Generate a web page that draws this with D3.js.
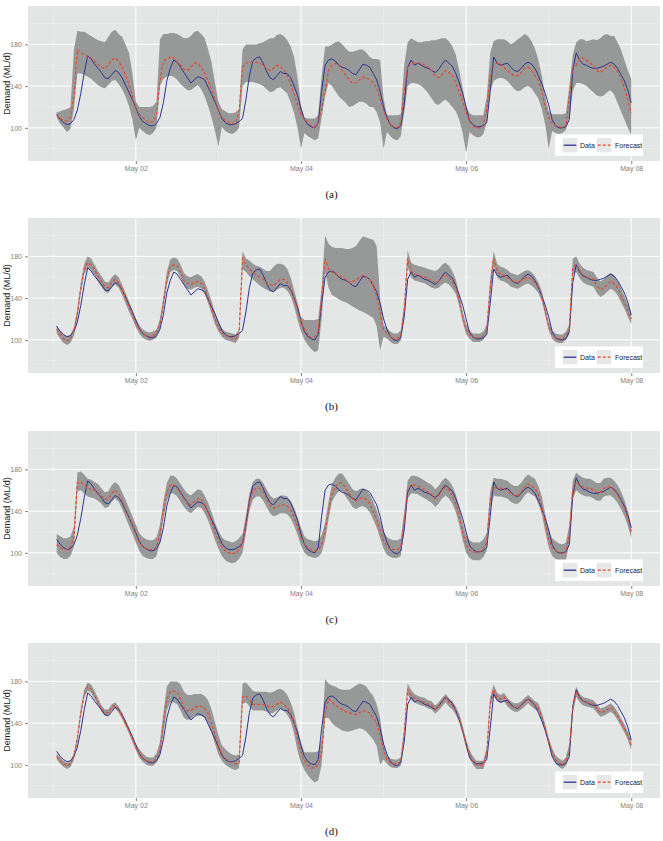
<!DOCTYPE html>
<html lang="en">
<head>
<meta charset="UTF-8" />
<title>Demand forecasts</title>
<script src="https://d3js.org/d3.v7.min.js"></script>
<style>
  body { margin: 0; background: #fff; }
  .tick text { font-family: "Liberation Sans", Arial, sans-serif; font-size: 7px; fill: #808080; }
  .tick line { stroke: #808080; }
  .panel-label { font-family: "Liberation Serif", "Times New Roman", serif; font-size: 11px; fill: #111; }
  .ytitle { font-family: "Liberation Sans", Arial, sans-serif; font-size: 9px; fill: #1a1a1a; }
  .legend text { font-family: "Liberation Sans", Arial, sans-serif; font-size: 7px; fill: #1a1a1a; }
</style>
</head>
<body>
<svg id="chart"></svg>
<script>
// hourly values, May 01 01:00 -> May 08 00:00 (one row per day)
const demand = [
  113,108,105,103,104,108,117,133,153,169,166,161,157,153,148,147,151,155,153,148,141,134,127,119,
  111,106,104,102,102,104,110,124,145,157,165,163,158,153,148,143,146,149,148,146,139,132,125,117,
  109,105,103,103,104,106,109,127,150,164,167,168,162,154,148,146,150,154,152,152,148,140,131,118,
  108,103,101,100,105,135,160,165,166,164,160,158,157,155,152,151,156,161,160,158,152,146,135,120,
  110,103,100,99,102,122,158,165,160,162,160,158,157,155,153,156,161,165,162,159,152,143,133,120,
  107,103,101,101,102,105,135,168,162,160,161,162,158,155,154,157,161,163,161,157,150,142,133,122,
  108,102,100,100,101,108,155,172,165,161,160,158,157,157,158,159,161,163,161,157,151,145,136,124
];

// (a)
const fcA = [
  112,109,107,107,110,130,175,172,170,168,167,164,161,158,157,160,165,167,164,158,150,142,130,119,
  113,110,107,105,106,112,145,164,166,168,167,163,160,156,155,158,162,162,158,152,145,137,127,117,
  110,107,105,104,105,115,158,162,163,163,163,162,160,157,155,157,160,159,155,150,142,132,122,113,
  108,105,102,100,105,118,135,155,160,162,160,155,150,146,143,143,146,149,148,146,143,138,128,117,
  108,103,101,100,105,135,158,162,162,162,162,160,158,155,150,148,151,155,153,150,143,135,125,115,
  106,102,100,100,103,118,150,160,162,161,158,155,152,150,150,153,157,158,155,150,145,135,120,110,
  104,102,101,100,102,130,158,160,166,167,165,162,160,155,153,156,158,160,158,154,147,138,127,114
];
const hiA = [
  115,116,117,118,120,175,193,192,192,190,188,186,184,183,182,187,192,194,190,187,180,172,152,125,
  120,120,120,120,121,125,185,190,190,191,191,190,188,186,186,188,192,193,190,186,175,163,143,125,
  118,116,114,114,115,118,175,180,180,180,180,181,182,184,186,186,189,190,188,184,178,168,148,122,
  110,109,109,109,112,150,178,178,180,182,183,180,176,173,173,174,175,175,172,168,166,166,165,128,
  112,112,112,112,113,160,182,186,184,182,182,183,183,184,184,185,186,186,183,178,170,155,138,120,
  114,112,112,112,112,130,172,183,185,185,185,183,180,182,185,187,190,188,183,176,165,150,130,116,
  113,113,113,113,114,140,170,182,185,185,183,184,185,184,186,189,190,188,188,182,175,165,155,147
];
const loA = [
  110,104,100,96,99,118,152,152,151,149,147,144,141,139,138,141,145,146,142,137,130,121,108,88,
  100,97,94,93,95,100,140,147,149,150,149,146,142,139,136,136,139,141,137,130,121,110,97,82,
  101,97,95,94,96,100,140,144,144,144,143,142,140,137,134,135,138,139,136,133,124,114,100,80,
  95,92,90,88,90,110,130,143,140,135,130,127,124,120,121,123,125,125,123,120,120,115,105,80,
  96,92,89,88,92,115,140,143,143,142,140,137,133,128,123,122,125,127,124,120,116,108,95,76,
  96,93,91,91,94,105,135,145,147,148,147,145,141,137,135,136,139,140,138,133,128,118,103,80,
  97,95,94,95,98,110,135,143,143,142,140,137,134,131,130,131,134,136,132,124,116,108,100,93
];

// (b)
const fcB = [
  110,105,101,99,101,108,125,150,168,174,172,167,161,156,151,150,155,158,155,148,140,132,124,116,
  110,106,104,103,104,106,115,135,158,170,172,171,165,157,154,153,155,156,154,149,140,130,120,112,
  107,104,103,102,101,106,178,172,168,165,162,160,158,155,153,152,155,158,158,155,150,140,128,117,
  110,105,102,103,108,140,178,168,165,163,162,160,158,155,156,157,160,162,160,158,152,142,125,110,
  106,103,101,101,104,128,178,166,163,162,161,160,158,157,155,156,160,162,160,156,150,138,122,110,
  105,102,102,102,104,110,150,178,166,163,162,160,157,156,155,157,159,160,158,155,150,142,127,113,
  105,102,101,101,104,110,170,172,166,162,160,159,158,152,148,150,153,156,154,150,143,136,128,120
];
const hiB = [
  114,109,105,103,105,112,130,155,173,180,178,172,166,161,156,155,160,163,160,153,145,137,128,120,
  114,110,108,107,108,110,120,141,165,177,179,178,172,164,161,160,162,163,161,156,147,137,126,117,
  111,108,107,106,105,110,185,178,176,173,171,170,168,166,166,170,173,173,172,168,160,148,135,122,
  119,119,119,119,120,150,200,192,189,188,188,188,187,187,188,190,195,199,198,197,196,190,140,114,
  111,108,106,106,109,134,186,174,172,171,170,169,168,167,166,168,172,174,171,166,158,144,127,115,
  109,106,106,106,108,115,158,185,173,170,169,167,164,163,162,164,166,167,165,161,155,147,131,117,
  109,106,105,105,108,115,178,180,173,169,167,166,165,160,156,158,162,164,162,157,150,142,134,125
];
const loB = [
  106,101,97,95,97,104,120,145,163,169,167,162,156,151,146,145,150,153,150,143,135,127,120,112,
  106,102,100,99,100,102,110,130,152,165,167,166,160,152,149,148,150,151,149,144,135,125,115,108,
  103,100,99,98,97,102,168,165,161,158,155,152,150,148,146,146,148,150,150,147,142,132,119,108,
  100,95,91,88,90,120,165,150,143,141,139,137,136,134,132,130,128,127,125,123,121,113,90,103,
  101,98,96,96,99,122,170,160,157,156,155,154,152,150,149,150,153,155,153,149,144,132,117,105,
  101,98,98,98,100,105,143,171,160,157,156,154,151,150,149,151,153,154,152,149,145,137,123,109,
  101,98,97,97,100,105,163,165,159,155,153,152,151,145,141,143,146,149,147,143,136,130,122,115
];

// (c)
const fcC = [
  108,105,103,103,106,115,167,168,165,162,161,160,158,155,151,152,157,160,157,150,142,134,126,118,
  110,106,104,103,103,106,118,140,158,165,165,162,157,152,148,146,149,152,151,146,139,130,120,112,
  106,102,100,99,100,103,108,127,148,159,162,162,158,152,146,143,144,146,146,145,141,134,125,115,
  108,105,103,102,103,108,120,140,157,163,167,167,162,157,152,150,152,153,151,147,140,132,122,112,
  106,104,103,103,105,130,160,165,165,164,162,160,158,156,152,155,160,163,160,155,147,135,120,108,
  103,101,101,101,104,110,150,163,162,162,161,160,157,155,155,158,163,166,164,162,155,145,128,113,
  105,102,100,99,101,118,160,168,165,163,162,162,160,158,158,162,163,163,160,156,150,143,133,120
];
const hiC = [
  118,116,114,114,116,125,177,178,175,171,170,168,166,162,158,159,165,168,165,158,151,143,135,127,
  119,115,113,112,112,115,127,149,167,174,174,171,166,161,157,155,158,161,160,155,148,139,129,121,
  115,112,111,110,111,114,118,136,157,168,171,171,167,161,155,152,153,155,155,154,150,143,134,124,
  116,113,112,111,112,117,129,149,166,172,176,176,171,166,161,159,161,162,160,156,149,141,131,121,
  115,113,112,112,114,139,169,174,174,173,171,169,167,165,161,164,169,172,169,164,156,144,129,117,
  112,110,110,110,113,119,159,172,171,171,170,169,166,164,164,167,172,175,173,171,164,154,137,122,
  114,111,109,108,110,127,169,177,174,172,171,171,169,167,167,171,172,172,169,165,159,151,140,126
];
const loC = [
  100,96,94,94,97,106,159,160,157,154,153,152,150,147,143,144,149,152,149,142,134,126,118,110,
  102,97,95,94,94,97,110,132,150,157,157,154,149,144,140,138,141,144,143,138,131,122,112,104,
  97,93,91,90,91,94,100,119,140,151,154,154,150,144,138,135,136,138,138,137,133,126,117,107,
  100,97,96,95,96,100,112,132,149,155,159,159,154,149,144,142,144,145,143,139,132,124,114,104,
  98,96,95,95,97,122,152,157,157,156,154,152,150,148,144,147,152,155,152,147,139,127,112,100,
  95,93,93,93,96,102,142,155,154,154,153,152,149,147,147,150,155,158,156,154,147,137,120,105,
  97,94,92,91,93,110,152,160,157,155,154,154,152,150,150,154,155,155,152,148,142,135,126,114
];

// (d)
const fcD = [
  108,104,101,99,101,108,125,150,168,175,173,167,160,154,150,150,155,157,153,147,140,133,125,117,
  111,107,104,103,103,106,115,140,163,170,171,170,163,155,152,152,155,156,156,154,149,140,129,118,
  110,106,104,102,101,102,165,166,162,158,158,158,158,157,155,156,158,160,158,155,150,140,125,112,
  104,100,97,97,100,112,150,163,160,157,155,153,151,150,149,148,150,152,151,150,145,140,128,115,
  105,102,101,101,103,130,172,167,164,162,161,160,158,157,153,156,160,164,160,157,152,145,133,120,
  110,104,100,100,100,112,160,172,165,163,165,160,157,155,155,157,160,163,160,157,155,146,135,122,
  112,105,102,100,103,115,155,170,164,161,160,159,158,154,150,151,153,155,152,147,141,135,128,119
];
const hiD = [
  111,107,104,102,104,111,129,154,172,179,177,171,164,157,153,153,158,160,156,150,143,136,128,120,
  115,111,108,107,107,111,122,150,175,180,180,180,177,170,167,167,168,168,168,166,162,153,141,128,
  119,115,112,110,109,110,178,179,175,171,170,170,170,170,169,170,172,173,171,167,160,150,135,122,
  112,112,112,112,113,125,182,178,176,175,173,172,172,172,174,176,178,177,175,170,166,158,145,120,
  109,106,105,105,107,135,178,172,168,166,165,164,162,161,157,160,164,168,164,161,156,149,137,124,
  114,108,104,104,104,117,165,177,169,167,169,164,161,159,159,161,164,167,164,161,159,150,139,126,
  116,109,106,104,107,120,160,175,168,165,164,163,162,158,154,155,157,159,156,151,145,139,132,124
];
const loD = [
  105,101,98,96,98,105,122,146,165,171,169,163,157,151,147,147,152,154,150,144,137,130,122,114,
  107,103,100,99,99,102,108,130,152,160,160,158,152,145,143,144,147,147,147,145,140,131,120,110,
  104,100,98,96,95,97,158,160,156,152,152,152,152,151,149,150,152,154,152,148,142,130,113,102,
  95,90,86,83,85,100,145,145,140,137,135,133,132,132,133,134,135,134,132,128,124,118,100,105,
  101,98,97,97,99,125,167,162,160,158,157,156,154,153,149,152,156,160,156,153,148,141,129,116,
  106,100,96,96,96,107,155,167,161,159,161,156,153,151,151,153,156,159,156,153,151,142,131,118,
  108,101,98,96,99,110,150,165,160,157,156,155,154,150,146,147,149,151,148,143,137,131,124,114
];

const panelTags = ["(a)", "(b)", "(c)", "(d)"];
const majorDays = [2, 4, 6, 8];
const minorDays = [1, 3, 5, 7];
const yMajor = [100, 140, 180];
const yMinor = [80, 120, 160, 200];
const seriesNames = ["Data", "Forecast"];

const width = 663, height = 841;
const plotLeft = 28, plotRight = 660, panelH = 155;
const panelTops = [6, 218, 431, 643];

const start = new Date(2014, 4, 1);
const times = d3.range(1, demand.length + 1).map((h) => d3.timeHour.offset(start, h));
const dayDate = (d) => new Date(2014, 4, d);

const svg = d3.select("#chart").attr("width", width).attr("height", height);

// shared x scale, 5% padding on each side like ggplot
const x = d3
  .scaleTime()
  .domain([d3.timeMinute.offset(start, -441), d3.timeMinute.offset(start, 10581)])
  .range([plotLeft, plotRight]);

const panels = [
  { fc: fcA, lo: loA, hi: hiA },
  { fc: fcB, lo: loB, hi: hiB },
  { fc: fcC, lo: loC, hi: hiC },
  { fc: fcD, lo: loD, hi: hiD },
];

panels.forEach((p, i) => {
  const top = panelTops[i];
  const bottom = top + panelH;
  const y = d3.scaleLinear().domain([68.2, 216.8]).range([bottom, top]);
  const g = svg.append("g");

  g.append("rect")
    .attr("x", plotLeft).attr("y", top)
    .attr("width", plotRight - plotLeft).attr("height", panelH)
    .attr("fill", "#E4E6E5");

  // grid
  g.selectAll(".ymin").data(yMinor).join("line")
    .attr("x1", plotLeft).attr("x2", plotRight)
    .attr("y1", (d) => y(d)).attr("y2", (d) => y(d))
    .attr("stroke", "#F0F1F1").attr("stroke-width", 0.5);
  g.selectAll(".xmin").data(minorDays).join("line")
    .attr("x1", (d) => x(dayDate(d))).attr("x2", (d) => x(dayDate(d)))
    .attr("y1", top).attr("y2", bottom)
    .attr("stroke", "#F0F1F1").attr("stroke-width", 0.5);
  g.selectAll(".ymaj").data(yMajor).join("line")
    .attr("x1", plotLeft).attr("x2", plotRight)
    .attr("y1", (d) => y(d)).attr("y2", (d) => y(d))
    .attr("stroke", "#fff").attr("stroke-width", 1);
  g.selectAll(".xmaj").data(majorDays).join("line")
    .attr("x1", (d) => x(dayDate(d))).attr("x2", (d) => x(dayDate(d)))
    .attr("y1", top).attr("y2", bottom)
    .attr("stroke", "#fff").attr("stroke-width", 1);

  // clip
  const clipId = "clip" + i;
  svg.append("clipPath").attr("id", clipId)
    .append("rect")
    .attr("x", plotLeft).attr("y", top)
    .attr("width", plotRight - plotLeft).attr("height", panelH);
  const plot = g.append("g").attr("clip-path", `url(#${clipId})`);

  const area = d3.area()
    .x((d, j) => x(times[j]))
    .y0((d, j) => y(p.lo[j]))
    .y1((d, j) => y(p.hi[j]));
  plot.append("path").datum(p.fc).attr("d", area).attr("fill", "#979998");

  const line = d3.line().x((d, j) => x(times[j])).y((d) => y(d));
  plot.append("path").datum(demand).attr("d", line)
    .attr("fill", "none").attr("stroke", "#2B3492").attr("stroke-width", 1);
  plot.append("path").datum(p.fc).attr("d", line)
    .attr("fill", "none").attr("stroke", "#E8482E")
    .attr("stroke-width", 1.2).attr("stroke-dasharray", "3,2");

  // axes
  const xAxis = g.append("g")
    .attr("transform", `translate(0,${bottom})`)
    .call(d3.axisBottom(x)
      .tickValues(majorDays.map(dayDate))
      .tickFormat(d3.timeFormat("%b %d"))
      .tickSize(3).tickPadding(2));
  xAxis.select(".domain").remove();

  const yAxis = g.append("g")
    .attr("transform", `translate(${plotLeft},0)`)
    .call(d3.axisLeft(y).tickValues(yMajor).tickSize(3).tickPadding(3));
  yAxis.select(".domain").remove();

  g.append("text")
    .attr("class", "ytitle")
    .attr("transform", `translate(10,${top + panelH / 2}) rotate(-90)`)
    .attr("text-anchor", "middle")
    .text("Demand (ML/d)");

  g.append("text")
    .attr("class", "panel-label")
    .attr("x", 331.5).attr("y", bottom + 37)
    .attr("text-anchor", "middle")
    .text(panelTags[i]);

  // legend
  const lgTop = bottom - 26.5;
  const lg = g.append("g").attr("class", "legend");
  lg.append("rect")
    .attr("x", 555).attr("y", lgTop).attr("width", 88).attr("height", 21.5)
    .attr("fill", "#fff");
  const keyX = [562.7, 596.7];
  const textX = [580, 615];
  seriesNames.forEach((name, k) => {
    lg.append("rect")
      .attr("x", keyX[k]).attr("y", lgTop + 3.5)
      .attr("width", 14.6).attr("height", 14.4)
      .attr("fill", "#E6E7E7");
    lg.append("line")
      .attr("x1", keyX[k] + 1).attr("x2", keyX[k] + 13.6)
      .attr("y1", lgTop + 10.7).attr("y2", lgTop + 10.7)
      .attr("stroke", k === 0 ? "#2B3492" : "#E8482E")
      .attr("stroke-width", k === 0 ? 1.3 : 1.2)
      .attr("stroke-dasharray", k === 0 ? null : "3,2");
    lg.append("text")
      .attr("x", textX[k]).attr("y", lgTop + 13.2)
      .text(name);
  });
});
</script>
</body>
</html>
